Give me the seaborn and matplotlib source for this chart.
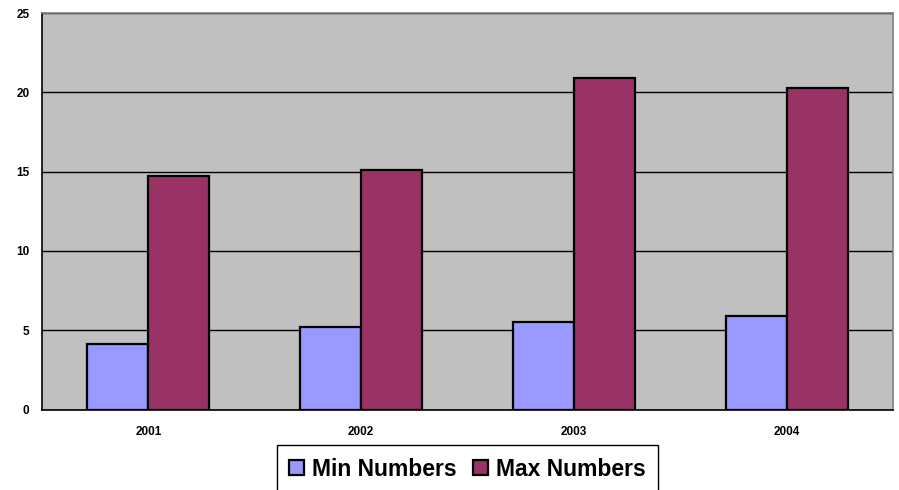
import matplotlib
matplotlib.use('Agg')
import matplotlib.pyplot as plt
import seaborn as sns
import pandas as pd

years = ['2001', '2002', '2003', '2004']
min_numbers = [4.1, 5.2, 5.5, 5.9]
max_numbers = [14.7, 15.1, 20.9, 20.3]
series_names = ['Min Numbers', 'Max Numbers']

df = pd.DataFrame({'ano': years, 'Min Numbers': min_numbers, 'Max Numbers': max_numbers})
df_long = df.melt(id_vars='ano', var_name='serie', value_name='valor')

sns.set_style('white')
plt.rcParams['font.family'] = ['Liberation Sans', 'DejaVu Sans']
plt.rcParams['text.color'] = 'black'

fig = plt.figure(figsize=(8.99, 4.90), dpi=100)
ax = fig.add_axes([42/899, 1 - 409.5/490, (893 - 42)/899, (409.5 - 13)/490])
ax.set_facecolor('#C0C0C0')

sns.barplot(data=df_long, x='ano', y='valor', hue='serie', hue_order=series_names,
            palette=['#9999FF', '#993366'], width=0.574, edgecolor='black',
            linewidth=1.6, saturation=1, ax=ax)

ax.set_ylim(0, 25)
ax.set_xlim(-0.5, 3.5)
ax.set_yticks([0, 5, 10, 15, 20, 25])
ax.yaxis.grid(True, color='black', linewidth=1)
ax.set_axisbelow(True)
ax.set_xlabel('')
ax.set_ylabel('')

ax.set_xticks(range(len(years)))
ax.set_xticklabels(years, fontsize=8.5, fontweight='bold', color='black')
ax.set_xticks([i - 0.5 for i in range(len(years) + 1)], minor=True)
ax.tick_params(axis='x', which='major', length=0, pad=12)
ax.tick_params(axis='x', which='minor', length=5, width=1, color='black', direction='out')
ax.tick_params(axis='y', length=4, width=1, color='black', direction='out', pad=5)
for lbl in ax.get_yticklabels():
    lbl.set_fontsize(8.5)
    lbl.set_fontweight('bold')
    lbl.set_color('black')

for s in ['top', 'right']:
    ax.spines[s].set_color('#808080')
    ax.spines[s].set_linewidth(1.2)
for s in ['left', 'bottom']:
    ax.spines[s].set_color('black')
    ax.spines[s].set_linewidth(1.2)

handles, labels = ax.get_legend_handles_labels()
ax.get_legend().remove()
leg = fig.legend(handles, labels, loc='upper center', bbox_to_anchor=(467.5/899, 1 - 445/490),
                 ncol=2, frameon=True, fancybox=False, edgecolor='black', framealpha=1,
                 prop={'size': 16.5, 'weight': 'bold'}, handlelength=0.65, handleheight=0.65,
                 handletextpad=0.35, columnspacing=0.7, borderpad=0.55, borderaxespad=0)
for t in leg.get_texts():
    t.set_color('black')

fig.savefig('out.png', dpi=100)
